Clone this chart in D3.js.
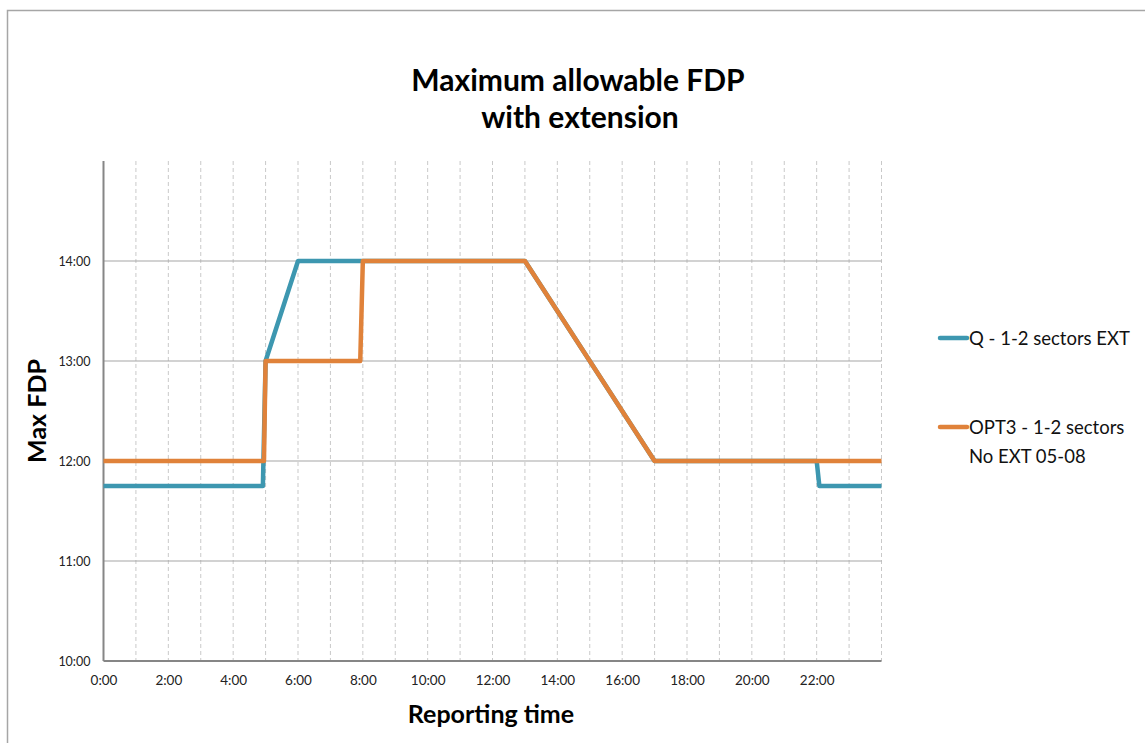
<!DOCTYPE html>
<html><head><meta charset="utf-8">
<script src="https://cdn.jsdelivr.net/npm/d3@7/dist/d3.min.js"></script>
<style>
html,body{margin:0;padding:0;background:#fff;}
svg{display:block;}
text{font-family:Lato,"Open Sans",sans-serif;}
</style></head>
<body>
<svg id="chart" width="1145" height="743"></svg>
<script>
// ---- data (hours of day -> max FDP in hours) ----
const seriesNames = ["Q - 1-2 sectors EXT", "OPT3 - 1-2 sectors\nNo EXT 05-08"];
const blueTimes  = [0, 4.917, 5.0, 6.0, 13.0, 17.0, 22.0, 22.083, 24];
const blueValues = [11.75, 11.75, 13, 14, 14, 12, 12, 11.75, 11.75];
const orangeTimes  = [0, 4.95, 5.0, 7.92, 8.0, 13.0, 17.0, 24];
const orangeValues = [12, 12, 13, 13, 14, 14, 12, 12];
const xTickValues = [0, 2, 4, 6, 8, 10, 12, 14, 16, 18, 20, 22];
const yTickValues = [10, 11, 12, 13, 14];
const colors = ["#3d97b0", "#e0823a"];

const svg = d3.select("#chart");
// chart border
svg.append("path").attr("d","M7.5,743 V10.5 H1145").attr("fill","none").attr("stroke","#a6a6a6").attr("stroke-width",1.5);

const x = d3.scaleLinear().domain([0, 24]).range([103.5, 881.5]);
const y = d3.scaleLinear().domain([10, 15]).range([661, 161]);
const fmt = h => `${Math.floor(h)}:${String(Math.round((h % 1) * 60)).padStart(2, "0")}`;

// vertical dashed gridlines every hour
svg.append("g").selectAll("line").data(d3.range(1, 25)).join("line")
  .attr("x1", d => x(d)).attr("x2", d => x(d)).attr("y1", y(15)).attr("y2", y(10))
  .attr("stroke", "#c9c9c9").attr("stroke-dasharray", "4,3").attr("stroke-width", 1);
// horizontal gridlines
svg.append("g").selectAll("line").data(yTickValues.slice(1)).join("line")
  .attr("x1", x(0)).attr("x2", x(24)).attr("y1", d => y(d)).attr("y2", d => y(d))
  .attr("stroke", "#a5a5a5").attr("stroke-width", 1);

// axes
const xAxis = svg.append("g").attr("transform", `translate(0,${y(10)})`)
  .call(d3.axisBottom(x).tickValues(xTickValues).tickFormat(fmt).tickSize(0).tickPadding(14));
const yAxis = svg.append("g").attr("transform", `translate(${x(0)},0)`)
  .call(d3.axisLeft(y).tickValues(yTickValues).tickFormat(fmt).tickSize(0).tickPadding(13));
[xAxis, yAxis].forEach(a => {
  a.select(".domain").attr("stroke", "#868686").attr("stroke-width", 2);
  a.selectAll("text").attr("font-size", 13.5).attr("fill", "#222").attr("font-family", "Lato, sans-serif");
});
xAxis.select(".domain").attr("d", `M${x(0)},0H${x(24)}`);
yAxis.select(".domain").attr("d", `M0,${y(15)}V${y(10)}`);
yAxis.selectAll("text").attr("font-size", 12.5);

// lines
const line = d3.line().x(d => x(d[0])).y(d => y(d[1]));
const blue = d3.zip(blueTimes, blueValues);
const orange = d3.zip(orangeTimes, orangeValues);
svg.append("path").datum(blue).attr("d", line).attr("fill", "none")
  .attr("stroke", colors[0]).attr("stroke-width", 4.5).attr("stroke-linejoin", "round");
svg.append("path").datum(orange).attr("d", line).attr("fill", "none")
  .attr("stroke", colors[1]).attr("stroke-width", 4.5).attr("stroke-linejoin", "round");

// titles
svg.append("text").attr("x", 578).attr("y", 91).attr("text-anchor", "middle")
  .attr("font-size", 30).attr("font-weight", "bold").attr("fill", "#000").text("Maximum allowable FDP");
svg.append("text").attr("x", 580).attr("y", 128).attr("text-anchor", "middle")
  .attr("font-size", 30).attr("font-weight", "bold").attr("fill", "#000").text("with extension");
svg.append("text").attr("x", 491).attr("y", 723).attr("text-anchor", "middle")
  .attr("font-size", 25).attr("font-weight", "bold").attr("fill", "#000").text("Reporting time");
svg.append("text").attr("transform", "translate(46,411) rotate(-90)").attr("text-anchor", "middle")
  .attr("font-size", 25).attr("font-weight", "bold").attr("fill", "#000").text("Max FDP");

// legend
const legY = [338, 427];
seriesNames.forEach((name, i) => {
  const g = svg.append("g");
  g.append("line").attr("x1", 940).attr("x2", 967).attr("y1", legY[i]).attr("y2", legY[i])
    .attr("stroke", colors[i]).attr("stroke-width", 4.5).attr("stroke-linecap", "round");
  name.split("\n").forEach((t, j) => {
    g.append("text").attr("x", 969).attr("y", legY[i] + 7 + j * 29)
      .attr("font-size", 18.5).attr("fill", "#111").text(t);
  });
});
</script>
</body></html>
